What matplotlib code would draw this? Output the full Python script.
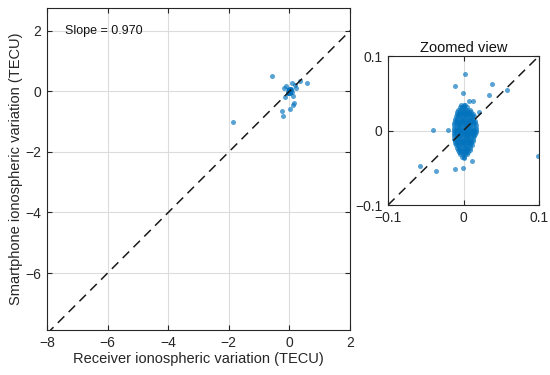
import numpy as np
import matplotlib
matplotlib.use("Agg")
import matplotlib.pyplot as plt

plt.rcParams['font.family'] = ['Liberation Sans', 'DejaVu Sans']

# ---- data ----
# large-scale outliers (main panel)
main_x = [-1.87, -0.58, 0.59, -0.11, 0.08, 0.19, -0.25, -0.20, 0.02, 0.11, 0.16, 0.35, -0.15, 0.13, 0.22, -0.18]
main_y = [-1.00, 0.52, 0.26, 0.16, 0.27, 0.20, -0.66, -0.82, -0.60, -0.44, -0.38, 0.33, -0.18, -0.16, 0.10, 0.12]

# moderate outliers (visible in zoomed view)
zoom_x = [0.002, -0.011, 0.038, -0.001, 0.034, 0.057, 0.007, 0.013, 0.021, -0.041, -0.021,
          0.099, -0.058, -0.036, -0.011, -0.001, 0.011, 0.001]
zoom_y = [0.076, 0.060, 0.062, 0.050, 0.048, 0.055, 0.039, 0.040, 0.025, 0.001, 0.001,
          -0.034, -0.048, -0.054, -0.052, -0.050, -0.041, -0.037]

# dense core cluster, by row: (y value, x values)
cluster_rows = [
    (0.034, [-0.003, 0.000, 0.002]),
    (0.031, [-0.005, -0.002, 0.001, 0.004]),
    (0.028, [-0.007, -0.004, -0.001, 0.002, 0.005, 0.008]),
    (0.025, [-0.008, -0.005, -0.002, 0.001, 0.004, 0.007, 0.010]),
    (0.022, [-0.009, -0.006, -0.003, 0.000, 0.003, 0.006, 0.009, 0.012]),
    (0.019, [-0.010, -0.007, -0.004, -0.001, 0.002, 0.005, 0.008, 0.011, 0.014]),
    (0.016, [-0.011, -0.008, -0.005, -0.002, 0.001, 0.004, 0.007, 0.010, 0.013]),
    (0.013, [-0.011, -0.008, -0.005, -0.002, 0.001, 0.004, 0.007, 0.010, 0.013, 0.015]),
    (0.010, [-0.012, -0.009, -0.006, -0.003, 0.000, 0.003, 0.006, 0.009, 0.012, 0.015]),
    (0.007, [-0.012, -0.009, -0.006, -0.003, 0.000, 0.003, 0.006, 0.009, 0.012, 0.016]),
    (0.004, [-0.012, -0.009, -0.006, -0.003, 0.000, 0.003, 0.006, 0.009, 0.012, 0.016]),
    (0.001, [-0.013, -0.010, -0.007, -0.004, -0.001, 0.002, 0.005, 0.008, 0.011, 0.014, 0.017]),
    (-0.002, [-0.013, -0.010, -0.007, -0.004, -0.001, 0.002, 0.005, 0.008, 0.011, 0.014, 0.016]),
    (-0.005, [-0.012, -0.009, -0.006, -0.003, 0.000, 0.003, 0.006, 0.009, 0.012, 0.015]),
    (-0.008, [-0.012, -0.009, -0.006, -0.003, 0.000, 0.003, 0.006, 0.009, 0.012, 0.014]),
    (-0.011, [-0.012, -0.009, -0.006, -0.003, 0.000, 0.003, 0.006, 0.009, 0.012]),
    (-0.014, [-0.011, -0.008, -0.005, -0.002, 0.001, 0.004, 0.007, 0.010, 0.012]),
    (-0.017, [-0.011, -0.008, -0.005, -0.002, 0.001, 0.004, 0.007, 0.010]),
    (-0.020, [-0.010, -0.007, -0.004, -0.001, 0.002, 0.005, 0.008, 0.011]),
    (-0.023, [-0.009, -0.006, -0.003, 0.000, 0.003, 0.006, 0.009]),
    (-0.026, [-0.007, -0.004, -0.001, 0.002, 0.005, 0.008]),
    (-0.029, [-0.006, -0.003, 0.000, 0.003, 0.006]),
    (-0.032, [-0.004, -0.001, 0.002, 0.004]),
    (-0.035, [-0.002, 0.001]),
]

slope_text = "Slope = 0.970"
main_ticks = [-8, -6, -4, -2, 0, 2]
main_yticks = [-6, -4, -2, 0, 2]
zoom_ticks = [-0.1, 0, 0.1]
zoom_ticklabels = ["-0.1", "0", "0.1"]

# ---- build arrays ----
cx = [x for y, xs in cluster_rows for x in xs]
cy = [y for y, xs in cluster_rows for x in xs]
all_x = np.array(main_x + zoom_x + cx)
all_y = np.array(main_y + zoom_y + cy)

blue = (0.0, 0.447, 0.741)
tc = '#262626'
gridc = '#dcdcdc'

fig = plt.figure(figsize=(5.5, 3.75), dpi=100)
ax = fig.add_axes([0.0855, 0.12, 0.551, 0.8587])
ax2 = fig.add_axes([0.7055, 0.4533, 0.2745, 0.3973])

def style(a):
    a.grid(True, color=gridc, linewidth=0.8)
    a.set_axisbelow(True)
    for s in a.spines.values():
        s.set_color(tc)
        s.set_linewidth(0.8)
    a.tick_params(direction='in', length=3.5, width=0.8, colors=tc,
                  labelsize=10, top=True, right=True, pad=4)

# main panel
ax.scatter(all_x, all_y, s=13, color=blue, alpha=0.65, linewidths=0, zorder=2)
ax.plot([-8, 2], [-8, 2], linestyle=(0, (6, 4)), color='#1a1a1a', linewidth=1.1, zorder=3)
ax.set_xticks(main_ticks)
ax.set_yticks(main_yticks)
ax.set_xticklabels([str(t).replace('-', '\u2212') for t in main_ticks])
ax.set_yticklabels([str(t).replace('-', '\u2212') for t in main_yticks])
ax.set_xlim(-8, 2)
ax.set_ylim(-7.88, 2.75)
style(ax)
ax.set_xlabel("Receiver ionospheric variation (TECU)", fontsize=10.5, color=tc, labelpad=2)
ax.set_ylabel("Smartphone ionospheric variation (TECU)", fontsize=10.5, color=tc, labelpad=2)
ax.text(-7.4, 2.0, slope_text, fontsize=9, color='#111111', va='center', ha='left')

# zoomed panel
ax2.scatter(all_x, all_y, s=13, color=blue, alpha=0.65, linewidths=0, zorder=2)
ax2.plot([-0.1, 0.1], [-0.1, 0.1], linestyle=(0, (6, 4)), color='#1a1a1a', linewidth=1.1, zorder=3)
ax2.set_xticks(zoom_ticks)
ax2.set_yticks(zoom_ticks)
ax2.set_xticklabels([t.replace('-', '\u2212') for t in zoom_ticklabels])
ax2.set_yticklabels([t.replace('-', '\u2212') for t in zoom_ticklabels])
ax2.set_xlim(-0.1, 0.1)
ax2.set_ylim(-0.1, 0.1)
style(ax2)
ax2.set_title("Zoomed view", fontsize=10.5, color='#111111', pad=3)

fig.savefig("out.png", dpi=100)
